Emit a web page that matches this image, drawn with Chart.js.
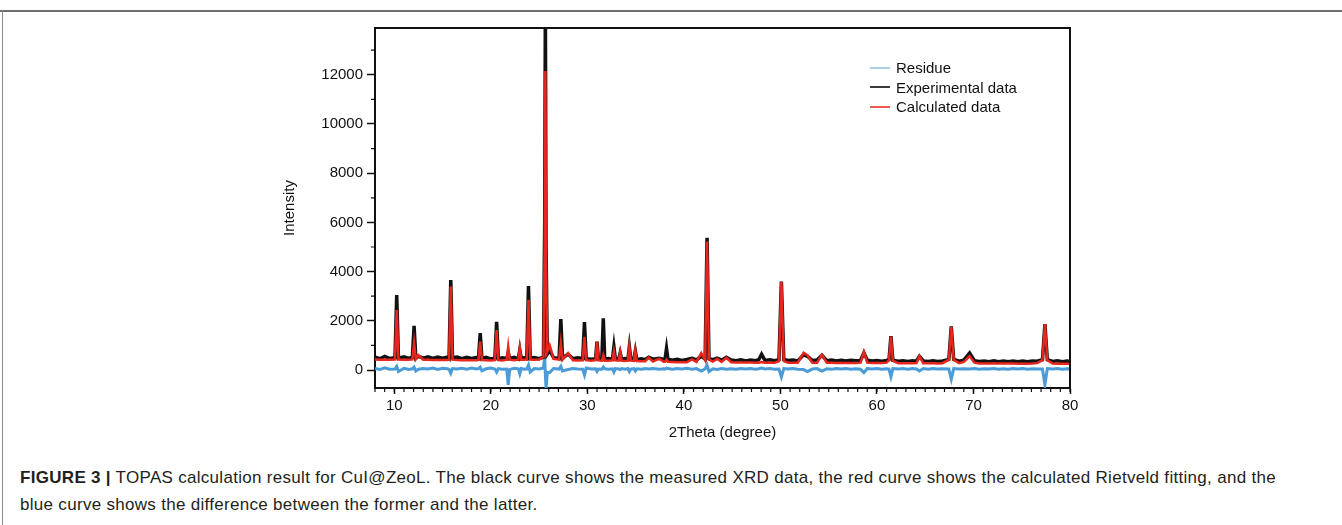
<!DOCTYPE html>
<html>
<head>
<meta charset="utf-8">
<script src="https://cdn.jsdelivr.net/npm/chart.js@4.4.1/dist/chart.umd.min.js"></script>
<style>
  body { margin: 0; background: #fff; }
  #fig { position: relative; width: 1342px; height: 525px; overflow: hidden; font-family: "Liberation Sans", Arial, sans-serif; }
  .rule-top { position: absolute; left: 0; top: 10px; width: 1342px; height: 2px; background: #6e6e6e; }
  .rule-left { position: absolute; left: 2px; top: 10px; width: 1px; height: 515px; background: #8a8a8a; }
  #wrap { position: absolute; left: 260px; top: 14px; width: 840px; height: 440px; }
  #legend { position: absolute; left: 870px; top: 58px; font-size: 15px; line-height: 19.5px; color: #111; }
  #legend div { display: flex; align-items: center; }
  #legend span.s { display: inline-block; width: 20px; height: 2px; margin-right: 6px; }
  #caption { position: absolute; left: 20px; top: 464px; font-size: 17px; letter-spacing: 0.3px; line-height: 27px; color: #231f20; white-space: nowrap; }
</style>
</head>
<body>
<div id="fig">
  <div class="rule-top"></div>
  <div class="rule-left"></div>
  <div id="wrap"><canvas id="xrd"></canvas></div>
  <div id="legend">
    <div><span class="s" style="background:#aacde9"></span>Residue</div>
    <div><span class="s" style="background:#3a3a3a"></span>Experimental data</div>
    <div><span class="s" style="background:#f05a55"></span>Calculated data</div>
  </div>
  <div id="caption"><b>FIGURE 3 |</b> TOPAS calculation result for CuI@ZeoL. The black curve shows the measured XRD data, the red curve shows the calculated Rietveld fitting, and the<br>blue curve shows the difference between the former and the latter.</div>
</div>
<script>
// values (2theta in degrees, intensity in counts)
const twoTheta = [
  8.0, 8.5, 9.0, 9.5, 10.07, 10.25, 10.43, 11.0, 11.5, 11.87, 12.05, 12.23, 12.5,
  13.0, 13.5, 14.0, 14.5, 15.0, 15.5, 15.67, 15.85, 16.03, 16.5, 17.0, 17.5, 18.0,
  18.5, 18.72, 18.9, 19.08, 19.5, 20.0, 20.42, 20.6, 20.78, 21.2, 21.65, 21.8, 21.95,
  22.4, 22.85, 23.0, 23.15, 23.5, 23.72, 23.9, 24.08, 24.5, 25.0, 25.45, 25.58, 25.65,
  25.72, 25.85, 26.1, 26.5, 27.07, 27.25, 27.43, 28.0, 28.5, 29.0, 29.52, 29.7, 29.88,
  30.4, 30.85, 31.0, 31.15, 31.5, 31.65, 31.8, 32.2, 32.6, 32.75, 32.9, 33.25, 33.4,
  33.55, 33.9, 34.2, 34.35, 34.5, 34.82, 34.97, 35.12, 35.6, 36.0, 36.35, 36.8, 37.45,
  37.9, 38.05, 38.2, 38.35, 38.8, 39.3, 39.8, 40.3, 40.85, 41.3, 41.8, 42.2, 42.4,
  42.6, 43.0, 43.45, 43.9, 44.4, 44.9, 45.4, 45.9, 46.4, 46.9, 47.4, 47.75, 48.05,
  48.4, 48.9, 49.4, 49.85, 50.1, 50.35, 50.8, 51.3, 51.8, 52.4, 52.8, 53.3, 53.8,
  54.3, 54.8, 55.3, 55.8, 56.3, 56.8, 57.3, 57.8, 58.3, 58.65, 59.0, 59.5, 60.0,
  60.5, 61.0, 61.25, 61.45, 61.65, 62.2, 62.7, 63.2, 63.7, 64.1, 64.4, 64.8, 65.3,
  65.8, 66.3, 66.8, 67.45, 67.7, 67.95, 68.5, 69.0, 69.6, 70.1, 70.6, 71.1, 71.6,
  72.1, 72.6, 73.1, 73.6, 74.1, 74.6, 75.1, 75.6, 76.1, 76.6, 77.15, 77.4, 77.65,
  78.2, 78.7, 79.2, 79.7, 80.0
];
const experimental = [
  520, 460, 550, 470, 500, 3050, 480, 540, 470, 520, 1800, 480, 560,
  480, 540, 470, 530, 480, 520, 470, 3660, 500, 530, 460, 520, 470,
  510, 480, 1500, 460, 520, 450, 480, 1960, 460, 500, 460, 700, 470,
  520, 450, 820, 480, 500, 470, 3410, 480, 510, 460, 520, 6000, 15000,
  5000, 650, 800, 500, 470, 2070, 480, 650, 460, 500, 470, 1950, 460,
  440, 460, 1150, 450, 470, 2100, 440, 470, 440, 950, 460, 450, 700,
  440, 470, 430, 950, 450, 440, 780, 430, 460, 420, 520, 440, 480,
  430, 450, 880, 440, 400, 440, 390, 430, 480, 410, 560, 450, 5370,
  460, 420, 480, 400, 520, 410, 380, 420, 370, 410, 380, 420, 640,
  390, 420, 380, 420, 3600, 430, 390, 410, 370, 620, 560, 390, 410,
  600, 380, 410, 370, 400, 370, 400, 380, 390, 700, 400, 370, 390,
  360, 390, 420, 1380, 400, 360, 380, 350, 380, 360, 560, 370, 350,
  380, 350, 370, 430, 1770, 430, 360, 400, 690, 380, 350, 370, 340,
  380, 340, 370, 340, 370, 340, 370, 340, 370, 360, 420, 1870, 420,
  350, 380, 340, 370, 350
];
const calculated = [
  430, 420, 420, 415, 430, 2440, 430, 420, 415, 430, 1100, 440, 600,
  420, 415, 410, 410, 410, 410, 420, 3390, 420, 405, 400, 400, 400,
  400, 410, 1150, 405, 395, 390, 400, 1620, 400, 390, 420, 950, 420,
  400, 420, 900, 420, 420, 430, 2850, 430, 420, 430, 520, 5000, 12150,
  4500, 750, 1000, 450, 420, 1100, 420, 690, 400, 390, 400, 1350, 400,
  380, 400, 1150, 390, 380, 600, 380, 380, 390, 750, 390, 380, 720,
  380, 370, 380, 950, 380, 370, 800, 370, 360, 360, 500, 350, 460,
  340, 340, 420, 340, 330, 320, 320, 320, 430, 330, 690, 400, 5220,
  420, 340, 460, 330, 500, 320, 310, 310, 305, 305, 300, 300, 330,
  300, 300, 300, 360, 3590, 360, 300, 300, 300, 700, 600, 300, 300,
  620, 300, 295, 290, 290, 290, 290, 290, 300, 740, 300, 290, 285,
  285, 300, 400, 1360, 380, 280, 280, 275, 275, 280, 560, 280, 275,
  275, 270, 280, 420, 1760, 420, 280, 330, 560, 300, 270, 270, 265,
  270, 265, 265, 265, 265, 260, 260, 260, 265, 280, 400, 1870, 400,
  265, 260, 260, 255, 255
];
const residue = [
  60, 20, 90, 30, 40, 150, -60, 70, 20, 50, 120, -40, 30,
  60, 40, 80, 20, 70, 50, 30, -130, 60, 40, 70, 30, 80,
  40, 60, 120, -30, 50, 80, 40, -80, 60, 30, 40, -600, 20,
  70, 50, -150, 60, 30, 40, 200, -80, 60, 40, 80, 540, -200,
  -750, -100, -100, 60, 40, 150, -40, 20, 60, 40, 30, -200, 80,
  40, 50, -60, 40, 30, 120, 50, 30, 50, -80, 60, 40, 20,
  60, 30, 60, -60, 40, 60, -40, 50, 30, 60, 40, 60, 30,
  50, 40, 80, 60, 30, 60, 40, 70, 30, 60, -40, 50, 200,
  -60, 50, 20, 60, 30, 50, 30, 60, 40, 60, 30, 50, 80,
  40, 60, 30, 40, -280, 60, 40, 60, 30, 20, -60, 40, 60,
  -40, 50, 30, 60, 40, 60, 30, 50, 30, -100, 60, 40, 60,
  30, 50, 40, -270, 60, 40, 60, 30, 60, 40, -40, 60, 30,
  60, 40, 50, 40, -370, 60, 40, 50, 40, 60, 30, 50, 40,
  60, 30, 50, 30, 60, 40, 60, 30, 50, 40, 40, -600, 60,
  40, 60, 30, 50, 40
];

const xMajor = [10, 20, 30, 40, 50, 60, 70, 80];
const yMajor = [0, 2000, 4000, 6000, 8000, 10000, 12000];
const xMinor = Array.from({ length: 73 }, (_, i) => 8 + i);
const yMinor = [1000, 3000, 5000, 7000, 9000, 11000, 13000];

const pts = ys => twoTheta.map((x, i) => ({ x, y: ys[i] }));

// minor ticks and the top/right frame
const frame = {
  id: 'frame',
  afterDraw (chart) {
    const { ctx, chartArea: a, scales: { x, y } } = chart;
    ctx.save();
    ctx.strokeStyle = '#111';
    ctx.lineWidth = 1.2;
    ctx.beginPath();
    xMinor.forEach(v => {
      const px = x.getPixelForValue(v);
      ctx.moveTo(px, a.bottom);
      ctx.lineTo(px, a.bottom + 4);
    });
    yMinor.forEach(v => {
      const py = y.getPixelForValue(v);
      ctx.moveTo(a.left, py);
      ctx.lineTo(a.left - 4, py);
    });
    ctx.stroke();
    ctx.lineWidth = 2;
    ctx.beginPath();
    ctx.moveTo(a.left, a.top);
    ctx.lineTo(a.right, a.top);
    ctx.lineTo(a.right, a.bottom);
    ctx.stroke();
    ctx.restore();
  }
};

const tickFont = { family: '"Liberation Sans", Arial, sans-serif', size: 15 };

new Chart(document.getElementById('xrd'), {
  type: 'line',
  data: {
    datasets: [
      { label: 'Residue', data: pts(residue), borderColor: '#4a9bd8', borderWidth: 3, order: 3 },
      { label: 'Experimental data', data: pts(experimental), borderColor: '#111', borderWidth: 3.5, order: 2 },
      { label: 'Calculated data', data: pts(calculated), borderColor: '#e8261e', borderWidth: 2.5, order: 1 }
    ]
  },
  options: {
    responsive: true,
    maintainAspectRatio: false,
    animation: false,
    elements: { point: { radius: 0 }, line: { tension: 0 } },
    layout: { padding: { top: 14, right: 30, left: 0, bottom: 6 } },
    plugins: { legend: { display: false }, tooltip: { enabled: false } },
    scales: {
      x: {
        type: 'linear', min: 8, max: 80,
        afterBuildTicks: s => { s.ticks = xMajor.map(v => ({ value: v })); },
        afterFit: s => { s.height = 60; },
        grid: { drawOnChartArea: false, drawTicks: true, tickLength: 6, tickWidth: 1.5, tickColor: '#111' },
        border: { display: true, color: '#111', width: 2 },
        ticks: { color: '#111', font: tickFont, padding: 3, maxRotation: 0, callback: v => String(v) },
        title: { display: true, text: '2Theta (degree)', color: '#111', font: tickFont, padding: { top: 0, bottom: 6 } }
      },
      y: {
        type: 'linear', min: -730, max: 13900,
        afterBuildTicks: s => { s.ticks = yMajor.map(v => ({ value: v })); },
        afterFit: s => { s.width = 115; },
        grid: { drawOnChartArea: false, drawTicks: true, tickLength: 8, tickWidth: 1.5, tickColor: '#111' },
        border: { display: true, color: '#111', width: 2 },
        ticks: { color: '#111', font: tickFont, padding: 4, callback: v => String(v) },
        title: { display: true, text: 'Intensity', color: '#111', font: tickFont, padding: { top: 21, bottom: 0 } }
      }
    }
  },
  plugins: [frame]
});
</script>
</body>
</html>
